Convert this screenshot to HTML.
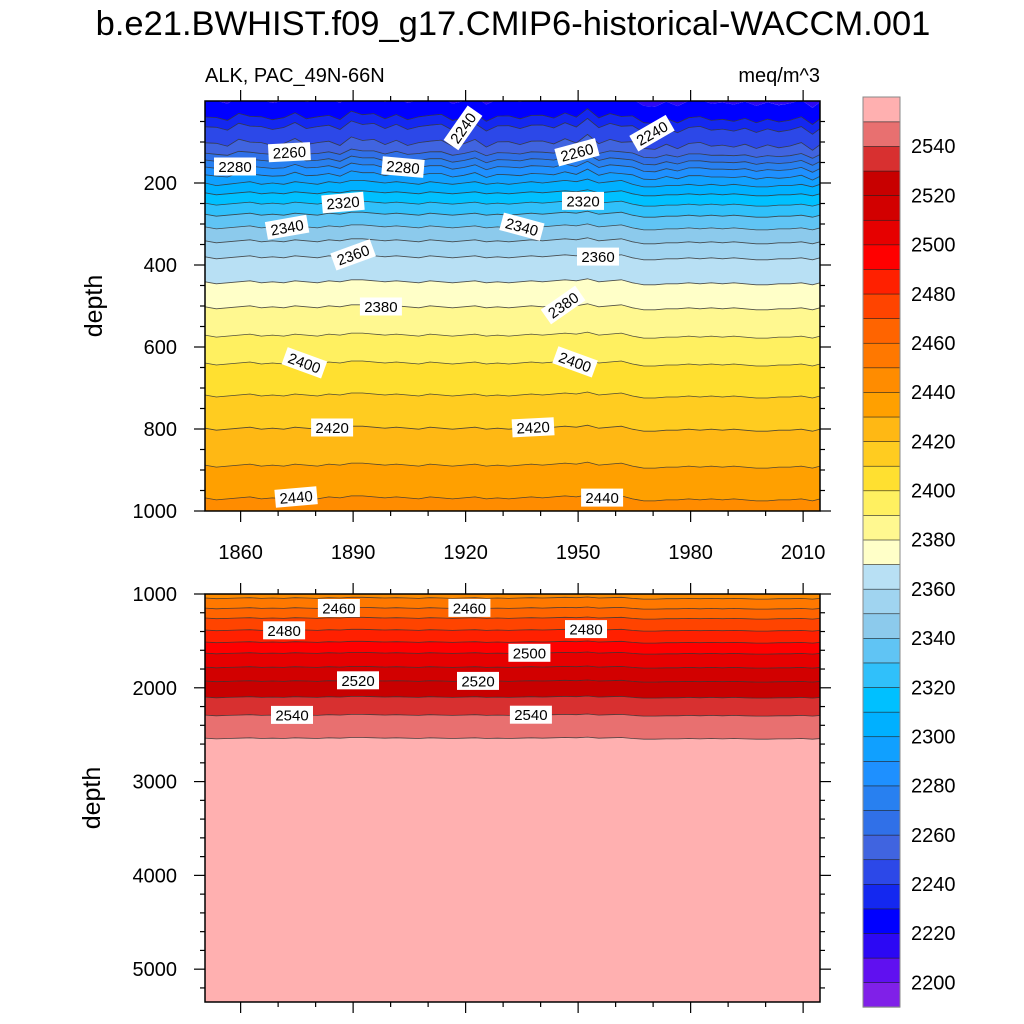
<!DOCTYPE html>
<html><head><meta charset="utf-8">
<style>
html,body{margin:0;padding:0;background:#fff;overflow:hidden;width:1024px;height:1024px;}
svg{display:block;font-family:"Liberation Sans",Arial,sans-serif;}
</style></head>
<body>
<svg id="chart" width="1024" height="1024" viewBox="0 0 1024 1024" xmlns="http://www.w3.org/2000/svg" overflow="hidden">
<text x="513" y="35" font-size="34.5" text-anchor="middle">b.e21.BWHIST.f09_g17.CMIP6-historical-WACCM.001</text>
<text x="205" y="82" font-size="20">ALK, PAC_49N-66N</text>
<text x="820" y="82" font-size="20" text-anchor="end">meq/m^3</text>
<text transform="translate(102,306) rotate(-90)" font-size="25" text-anchor="middle">depth</text>
<text transform="translate(100,798) rotate(-90)" font-size="25" text-anchor="middle">depth</text>
<defs>
<clipPath id="clipTop"><rect x="205" y="101" width="615" height="410"/></clipPath>
<clipPath id="clipBot"><rect x="205" y="594" width="615" height="408"/></clipPath>
</defs>
<g id="topFill" clip-path="url(#clipTop)"></g>
<g id="botFill" clip-path="url(#clipBot)"></g>
<g id="axes"></g>
<g id="cbar"></g>
</svg>
<script>
// contour levels (meq/m^3) and the depth (m) where each level is crossed in the mean profile
const levels = [2220,2230,2240,2250,2260,2270,2280,2290,2300,2310,2320,2330,2340,2350,2360,2370,2380,2390,2400,2410,2420,2430,2440,2450,2460,2470,2480,2490,2500,2510,2520,2530,2540,2550,2560];
const levelDepths = [-2,39,63,102,127,144,161,180,200,224,249,276,307,341,380,441,502,571,639,717,798,888,968,1043,1150,1256,1384,1512,1630,1779,1928,2099,2291,2537,6000];
// time samples and anomalies (px shift of isolines, + = deeper)
const years = [1850.5,1853.5,1856.5,1859.5,1862.5,1865.5,1868.5,1871.5,1874.5,1877.5,1880.5,1883.5,1886.5,1889.5,1892.5,1895.5,1898.5,1901.5,1904.5,1907.5,1910.5,1913.5,1916.5,1919.5,1922.5,1925.5,1928.5,1931.5,1934.5,1937.5,1940.5,1943.5,1946.5,1949.5,1952.5,1955.5,1958.5,1961.5,1964.5,1967.5,1970.5,1973.5,1976.5,1979.5,1982.5,1985.5,1988.5,1991.5,1994.5,1997.5,2000.5,2003.5,2006.5,2009.5,2012.5,2015.5];
const anomaly = [0,2,1,0,-1,1,0,1,-1,0,1,-1,0,-2,-2,-1,0,-1,0,1,-1,0,1,0,-1,1,0,1,0,-1,0,-1,-2,-1,-3,0,-1,-2,1,3,3,2,2,1,2,1,2,1,2,3,3,2,2,1,3,0];
const surfaceNoise = [0,-3,2,-4,1,-2,3,-1,-3,2,-2,0,3,-3,1,-2,2,-1,3,-2,0,-3,2,1,-2,3,-1,-3,2,0,-2,3,-1,2,-4,1,-2,3,-3,1,2,-2,3,-1,-4,2,-1,3,-2,1,-3,2,0,-2,3,-1];
const bandColors = ["#8020e8","#6010f0","#2c08f4","#0000ff","#1428f0","#2c48e8","#4064e0","#3070e8","#2880f0","#1e90ff","#10a0ff","#00b0ff","#00c0ff","#30c0fa","#60c4f4","#8ccaec","#a0d4f0","#b8e0f4","#ffffc8","#fff890","#fff060","#ffe030","#ffcc20","#ffb814","#ffa000","#ff8c00","#ff7800","#ff6400","#ff4400","#ff2000","#ff0000","#e60000","#d20000","#c80000","#d83030","#e87070","#ffb0b0"];
const cbarLevels = [2200,2210,2220,2230,2240,2250,2260,2270,2280,2290,2300,2310,2320,2330,2340,2350,2360,2370,2380,2390,2400,2410,2420,2430,2440,2450,2460,2470,2480,2490,2500,2510,2520,2530,2540,2550];
const xTickYears = [1860,1890,1920,1950,1980,2010];
const topDepthTicks = [200,400,600,800,1000];
const botDepthTicks = [1000,2000,3000,4000,5000];
// contour labels: [panel, year, level, angle]
const contourLabels = [
["top",1858.5,2280,0],["top",1873,2260,-3],["top",1903.3,2280,5],["top",1919.3,2240,-55],["top",1949.7,2260,-15],["top",1969.7,2240,-30],
["top",1887.3,2320,-5],["top",1872.4,2340,-10],["top",1890,2360,-20],["top",1935,2340,15],["top",1951.3,2320,0],["top",1955.3,2360,0],
["top",1897.4,2380,0],["top",1946,2380,-35],["top",1877,2400,20],["top",1949.2,2400,20],["top",1884.4,2420,0],["top",1938,2420,-3],
["top",1874.8,2440,-5],["top",1956.4,2440,0],
["bot",1886.2,2460,0],["bot",1921,2460,0],["bot",1871.6,2480,0],["bot",1952.1,2480,0],["bot",1937,2500,0],["bot",1891.3,2520,0],["bot",1923.3,2520,0],["bot",1873.7,2540,0],["bot",1937.4,2540,0]
];

const NS="http://www.w3.org/2000/svg";
const svg=document.getElementById('chart');
function mk(tag,attrs,parent){const e=document.createElementNS(NS,tag);for(const k in attrs)e.setAttribute(k,attrs[k]);(parent||svg).appendChild(e);return e;}
const X0=205,X1=820,YR0=1850.5,YR1=2014.5;
function xS(yr){return X0+(yr-YR0)*(X1-X0)/(YR1-YR0);}
const panels={
 top:{y0:101,y1:511,d0:0,d1:1000,g:document.getElementById('topFill')},
 bot:{y0:594,y1:1002,d0:1000,d1:5350,g:document.getElementById('botFill')}
};
function yS(p,d){return p.y0+(d-p.d0)*(p.y1-p.y0)/(p.d1-p.d0);}
function weight(p,lev){ if(p===panels.bot) return 0.35; if(lev<=2250) return 1.6; if(lev<=2300) return 1.3; return 1.0;}
function lineY(p,i,k){
  const lev=levels[i];let y=yS(p,levelDepths[i])+anomaly[k]*weight(p,lev);
  if(p===panels.top&&lev<=2290) y+=surfaceNoise[k]*(lev<=2250?0.9:0.45);
  return Math.min(y, p.y1+40);
}
function curve(p,i){return years.map((yr,k)=>[xS(yr),lineY(p,i,k)]);}
function drawPanel(name){
  const p=panels[name];
  for(let i=0;i<levels.length-1;i++){
    const a=curve(p,i),b=curve(p,i+1).reverse();
    const pts=a.concat(b).map(q=>q[0].toFixed(1)+','+q[1].toFixed(1)).join(' ');
    const poly=mk('polygon',{points:pts,fill:bandColors[i+3],stroke:'none'},p.g);
    
    
  }
  const first=curve(p,0);
  const tp=[[X0,p.y0-10],[X1+10,p.y0-10]].concat(first.slice().reverse());
  const t=mk('polygon',{points:tp.map(q=>q.join(',')).join(' '),fill:bandColors[2]},p.g);
  
  
  for(let i=1;i<levels.length-1;i++){
    const c=curve(p,i);
    const pl=mk('polyline',{points:c.map(q=>q[0].toFixed(1)+','+q[1].toFixed(1)).join(' '),fill:'none',stroke:'#333','stroke-width':0.8,'stroke-opacity':0.85},p.g);
    
    
  }
}
drawPanel('top');drawPanel('bot');

contourLabels.forEach(l=>{
  const p=panels[l[0]];const i=levels.indexOf(l[2]);
  let k=Math.max(0,Math.min(years.length-2,Math.floor((l[1]-years[0])/3)));
  const f=(l[1]-years[k])/3;
  const y=lineY(p,i,k)*(1-f)+lineY(p,i,k+1)*f;
  const x=xS(l[1]);
  const g=mk('g',{transform:`translate(${x.toFixed(1)},${y.toFixed(1)}) rotate(${l[3]})`},p.g);
  
  
  mk('rect',{x:-21,y:-9,width:42,height:18,fill:'#fff'},g);
  const tx=mk('text',{x:0,y:5.5,'font-size':15,'text-anchor':'middle',fill:'#000'},g);
  tx.textContent=l[2];
});

const ax=document.getElementById('axes');
function tick(x1,y1,x2,y2,name){const l=mk('line',{x1,y1,x2,y2,stroke:'#000','stroke-width':1.2},ax);}
['top','bot'].forEach(name=>{
  const p=panels[name];
  const fr=mk('rect',{x:X0,y:p.y0,width:X1-X0,height:p.y1-p.y0,fill:'none',stroke:'#000','stroke-width':1.5},ax);
  
  
  for(let yr=1860;yr<=2010;yr+=10){
    const x=xS(yr);const major=xTickYears.includes(yr);const len=major?11:5;
    tick(x,p.y0,x,p.y0-len,'x-tick-top');
    tick(x,p.y1,x,p.y1+len,'x-tick-bottom');
  }
  const step=name==='top'?50:200, majors=name==='top'?topDepthTicks:botDepthTicks;
  for(let d=Math.ceil(p.d0/step)*step;d<=p.d1;d+=step){
    if(d<=p.d0&&name==='top')continue;
    const y=yS(p,d);const major=majors.includes(d);const len=major?11:5;
    tick(X0,y,X0-len,y,'y-tick-left');tick(X1,y,X1+len,y,'y-tick-right');
  }
  majors.forEach(d=>{
    const t=mk('text',{x:177,y:yS(p,d)+7,'font-size':20,'text-anchor':'end'},ax);
    
    
    t.textContent=d;
  });
});
xTickYears.forEach(yr=>{
  const t=mk('text',{x:xS(yr),y:559,'font-size':20,'text-anchor':'middle'},ax);
  
  
  t.textContent=yr;
});

const cb=document.getElementById('cbar');
const CB0=97,CB1=1007,CBX=863,CBW=37,n=bandColors.length,bh=(CB1-CB0)/n;
bandColors.forEach((c,i)=>{
  const y=CB1-(i+1)*bh;
  const r=mk('rect',{x:CBX,y:y.toFixed(2),width:CBW,height:(bh+0.3).toFixed(2),fill:c,stroke:'#222','stroke-width':0.6},cb);
  
  
});
mk('rect',{x:CBX,y:CB0,width:CBW,height:CB1-CB0,fill:'none',stroke:'#888','stroke-width':1},cb);
cbarLevels.forEach((lv,i)=>{
  if(lv%20!==0)return;
  const y=CB1-(i+1)*bh;
  const t=mk('text',{x:911,y:(y+7).toFixed(1),'font-size':20},cb);
  
  
  t.textContent=lv;
});
</script>
</body></html>
